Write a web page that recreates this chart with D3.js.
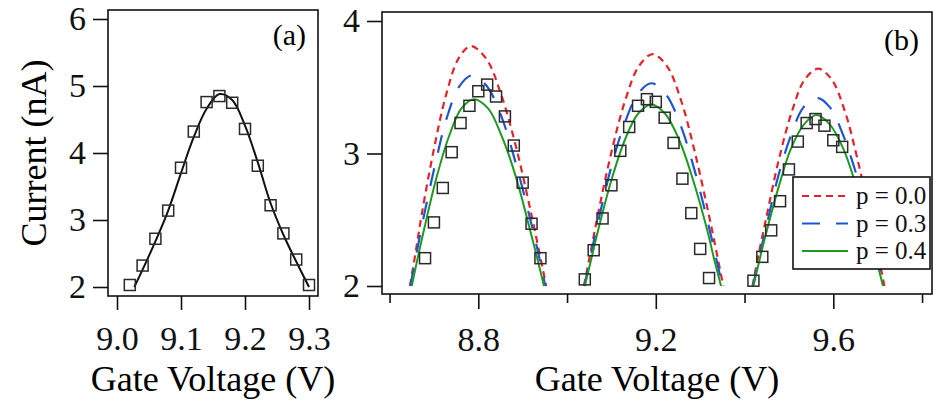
<!DOCTYPE html>
<html>
<head>
<meta charset="utf-8">
<script src="https://cdn.jsdelivr.net/npm/d3@7"></script>
<style>
  body { margin: 0; background: #fff; }
  svg { display: block; font-family: "Liberation Serif", "Times New Roman", serif; }
</style>
</head>
<body>
<div class="chart"></div>
<script>
// Panel (a): measured points and fitted curve
const voltageA = [9.02, 9.04, 9.06, 9.08, 9.10, 9.12, 9.14, 9.16, 9.18, 9.20, 9.22, 9.24, 9.26, 9.28, 9.30];
const currentA = [2.03, 2.32, 2.72, 3.14, 3.78, 4.32, 4.76, 4.85, 4.75, 4.36, 3.81, 3.22, 2.80, 2.41, 2.03];
const fitVoltageA = [9.027, 9.04, 9.06, 9.08, 9.10, 9.12, 9.14, 9.16, 9.18, 9.20, 9.22, 9.24, 9.26, 9.28, 9.30];
const fitCurrentA = [2.00, 2.26, 2.68, 3.14, 3.70, 4.24, 4.66, 4.88, 4.79, 4.41, 3.86, 3.25, 2.78, 2.38, 2.00];

// Panel (b): measured points
const voltageB = [8.68, 8.70, 8.72, 8.74, 8.76, 8.78, 8.80, 8.82, 8.84, 8.86, 8.88, 8.90, 8.92, 8.94,
  9.04, 9.06, 9.08, 9.10, 9.12, 9.14, 9.16, 9.18, 9.20, 9.22, 9.24, 9.26, 9.28, 9.30, 9.32,
  9.42, 9.44, 9.46, 9.48, 9.50, 9.52, 9.54, 9.56, 9.58, 9.60, 9.62];
const currentB = [2.21, 2.48, 2.74, 3.01, 3.23, 3.36, 3.47, 3.52, 3.43, 3.28, 3.06, 2.78, 2.47, 2.21,
  2.05, 2.27, 2.51, 2.76, 3.02, 3.20, 3.36, 3.41, 3.39, 3.27, 3.08, 2.81, 2.55, 2.28, 2.06,
  2.04, 2.22, 2.42, 2.64, 2.88, 3.09, 3.23, 3.26, 3.21, 3.10, 3.05];

// Panel (b): model curves, one segment per peak, [voltage, current]
const fitP00 = [
  [[8.646, 2.00], [8.660, 2.28], [8.673, 2.55], [8.701, 3.05], [8.728, 3.45], [8.756, 3.72], [8.783, 3.81],
   [8.817, 3.72], [8.851, 3.45], [8.885, 3.05], [8.919, 2.55], [8.936, 2.28], [8.953, 2.00]],
  [[9.038, 2.00], [9.054, 2.27], [9.069, 2.53], [9.100, 3.01], [9.131, 3.40], [9.162, 3.66], [9.193, 3.75],
   [9.225, 3.66], [9.257, 3.40], [9.288, 3.01], [9.320, 2.53], [9.336, 2.27], [9.352, 2.00]],
  [[9.418, 2.00], [9.433, 2.26], [9.448, 2.50], [9.477, 2.95], [9.507, 3.32], [9.536, 3.56], [9.566, 3.64],
   [9.596, 3.56], [9.626, 3.32], [9.655, 2.95], [9.685, 2.50], [9.700, 2.26], [9.715, 2.00]]
];
const fitP03 = [
  [[8.647, 2.00], [8.661, 2.25], [8.675, 2.49], [8.703, 2.92], [8.730, 3.28], [8.758, 3.51], [8.786, 3.59],
   [8.819, 3.51], [8.852, 3.28], [8.885, 2.92], [8.918, 2.49], [8.935, 2.25], [8.951, 2.00]],
  [[9.039, 2.00], [9.054, 2.24], [9.069, 2.47], [9.099, 2.89], [9.130, 3.23], [9.160, 3.45], [9.190, 3.53],
   [9.222, 3.45], [9.254, 3.23], [9.286, 2.89], [9.318, 2.47], [9.334, 2.24], [9.350, 2.00]],
  [[9.419, 2.00], [9.433, 2.22], [9.448, 2.43], [9.476, 2.83], [9.505, 3.14], [9.533, 3.35], [9.562, 3.42],
   [9.592, 3.35], [9.622, 3.14], [9.653, 2.83], [9.683, 2.43], [9.698, 2.22], [9.713, 2.00]]
];
const fitP04 = [
  [[8.650, 2.00], [8.664, 2.22], [8.678, 2.43], [8.706, 2.82], [8.734, 3.13], [8.762, 3.34], [8.790, 3.41],
   [8.822, 3.34], [8.853, 3.13], [8.885, 2.82], [8.916, 2.43], [8.932, 2.22], [8.948, 2.00]],
  [[9.040, 2.00], [9.055, 2.21], [9.070, 2.42], [9.100, 2.80], [9.130, 3.10], [9.160, 3.30], [9.190, 3.37],
   [9.221, 3.30], [9.253, 3.10], [9.284, 2.80], [9.316, 2.42], [9.331, 2.21], [9.347, 2.00]],
  [[9.420, 2.00], [9.434, 2.20], [9.448, 2.39], [9.477, 2.75], [9.505, 3.04], [9.534, 3.22], [9.562, 3.29],
   [9.592, 3.22], [9.622, 3.04], [9.652, 2.75], [9.682, 2.39], [9.697, 2.20], [9.712, 2.00]]
];

// Tick values
const ticksXA = [9.0, 9.1, 9.2, 9.3];
const ticksYA = [2, 3, 4, 5, 6];
const ticksXB = [8.6, 8.8, 9.0, 9.2, 9.4, 9.6, 9.8];
const labelledXB = [8.8, 9.2, 9.6];
const ticksYB = [2, 3, 4];
const legendLabels = ["p = 0.0", "p = 0.3", "p = 0.4"];

const svg = d3.select(".chart")
  .append("svg")
  .attr("width", 937)
  .attr("height", 405)
  .attr("viewBox", "0 0 937 405");

const tickFont = 34;

// Scales
const xA = d3.scaleLinear().domain([9.0, 9.3]).range([117, 309]);
const yA = d3.scaleLinear().domain([2, 6]).range([287, 19]);
const xB = d3.scaleLinear().domain([8.8, 9.6]).range([478.3, 833.3]);
const yB = d3.scaleLinear().domain([2, 4]).range([286, 21]);

const frameA = { left: 108, right: 318, top: 10, bottom: 296 };
const frameB = { left: 382, right: 932, top: 12, bottom: 294 };

const drawFrame = (f) => {
  svg.append("rect")
    .attr("x", f.left).attr("y", f.top)
    .attr("width", f.right - f.left).attr("height", f.bottom - f.top)
    .attr("fill", "none").attr("stroke", "#111").attr("stroke-width", 1.6);
};

const styleAxis = (g) => {
  g.select(".domain").remove();
  g.selectAll(".tick line").attr("stroke", "#111").attr("stroke-width", 1.6);
  g.selectAll(".tick text")
    .attr("fill", "#111")
    .style("font-size", tickFont + "px")
    .style("font-family", "Liberation Serif, Times New Roman, serif");
};

// Panel (a) axes
svg.append("g")
  .attr("transform", `translate(0,${frameA.bottom})`)
  .call(d3.axisBottom(xA).tickValues(ticksXA).tickFormat(d3.format(".1f")).tickSize(14).tickPadding(16))
  .call(styleAxis);

svg.append("g")
  .attr("transform", `translate(${frameA.left},0)`)
  .call(d3.axisLeft(yA).tickValues(ticksYA).tickFormat(d3.format("d")).tickSize(15).tickPadding(7))
  .call(styleAxis);

// Panel (b) axes: long ticks where labelled, short ticks between
svg.append("g")
  .attr("transform", `translate(0,${frameB.bottom})`)
  .call(d3.axisBottom(xB).tickValues(ticksXB)
    .tickFormat(d => labelledXB.includes(d) ? d3.format(".1f")(d) : "")
    .tickSize(15).tickPadding(18))
  .call(styleAxis)
  .call(g => g.selectAll(".tick line")
    .attr("y2", d => labelledXB.includes(d) ? 15 : 9));

svg.append("g")
  .attr("transform", `translate(${frameB.left},0)`)
  .call(d3.axisLeft(yB).tickValues(ticksYB).tickFormat(d3.format("d")).tickSize(15).tickPadding(7))
  .call(styleAxis);

drawFrame(frameA);
drawFrame(frameB);

// Panel (a) fit curve
const lineA = d3.line()
  .x(d => xA(d[0]))
  .y(d => yA(d[1]))
  .curve(d3.curveCatmullRom);

svg.append("path")
  .datum(d3.zip(fitVoltageA, fitCurrentA))
  .attr("d", lineA)
  .attr("fill", "none")
  .attr("stroke", "#111")
  .attr("stroke-width", 2);

// Squares
const sq = 11;
const drawSquares = (vs, cs, x, y) => {
  svg.append("g")
    .selectAll("rect")
    .data(d3.zip(vs, cs))
    .join("rect")
      .attr("x", d => x(d[0]) - sq / 2)
      .attr("y", d => y(d[1]) - sq / 2)
      .attr("width", sq)
      .attr("height", sq)
      .attr("fill", "none")
      .attr("stroke", "#2a2a2a")
      .attr("stroke-width", 1.5);
};
drawSquares(voltageA, currentA, xA, yA);

// Panel (b) model curves
const lineB = d3.line()
  .x(d => xB(d[0]))
  .y(d => yB(d[1]))
  .curve(d3.curveCatmullRom);

const seriesB = [
  { segments: fitP00, color: "#e3232c", dash: "7,5", width: 2.2 },
  { segments: fitP03, color: "#1f54d6", dash: "18,16", width: 2.2 },
  { segments: fitP04, color: "#1e9a22", dash: null, width: 2 }
];

seriesB.forEach(s => {
  svg.append("g")
    .selectAll("path")
    .data(s.segments)
    .join("path")
      .attr("d", lineB)
      .attr("fill", "none")
      .attr("stroke", s.color)
      .attr("stroke-width", s.width)
      .attr("stroke-dasharray", s.dash);
});

drawSquares(voltageB, currentB, xB, yB);

// Legend
const legend = svg.append("g").attr("transform", "translate(793,177)");
legend.append("rect")
  .attr("width", 137).attr("height", 92)
  .attr("fill", "#fff").attr("stroke", "#111").attr("stroke-width", 1.6);

const legendRows = legend.selectAll("g")
  .data(seriesB)
  .join("g")
    .attr("transform", (d, i) => `translate(0,${19 + i * 27.5})`);

legendRows.append("line")
  .attr("x1", 9).attr("x2", 55)
  .attr("stroke", d => d.color)
  .attr("stroke-width", d => d.width)
  .attr("stroke-dasharray", d => d.dash);

legendRows.append("text")
  .attr("x", 63).attr("y", 8)
  .attr("fill", "#111")
  .style("font-size", "25px")
  .text((d, i) => legendLabels[i]);

// Panel labels and axis titles
svg.append("text")
  .attr("x", 306).attr("y", 45)
  .attr("text-anchor", "end")
  .style("font-size", "30px")
  .text("(a)");

svg.append("text")
  .attr("x", 919).attr("y", 50)
  .attr("text-anchor", "end")
  .style("font-size", "30px")
  .text("(b)");

svg.append("text")
  .attr("transform", "translate(46,153) rotate(-90)")
  .attr("text-anchor", "middle")
  .style("font-size", "36px")
  .text("Current (nA)");

svg.append("text")
  .attr("x", (frameA.left + frameA.right) / 2).attr("y", 391)
  .attr("text-anchor", "middle")
  .style("font-size", "36px")
  .text("Gate Voltage (V)");

svg.append("text")
  .attr("x", (frameB.left + frameB.right) / 2).attr("y", 391)
  .attr("text-anchor", "middle")
  .style("font-size", "36px")
  .text("Gate Voltage (V)");
</script>
</body>
</html>
